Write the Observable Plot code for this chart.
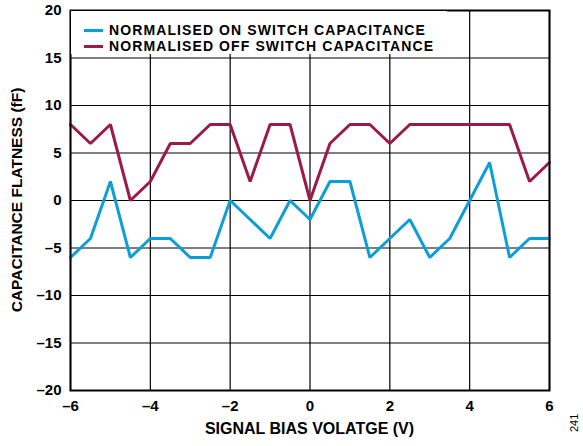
<!DOCTYPE html>
<html>
<head>
<meta charset="utf-8">
<script src="https://cdn.jsdelivr.net/npm/d3@7"></script>
<script src="https://cdn.jsdelivr.net/npm/@observablehq/plot@0.6"></script>
<style>
  html, body { margin: 0; padding: 0; background: #fff; }
  #wrap { position: relative; width: 583px; height: 446px; font-family: "Liberation Sans", Arial, sans-serif; }
  #legend { position: absolute; left: 71px; top: 11px; width: 376px; height: 43px; background: #fff; font-weight: bold; font-size: 14px; letter-spacing: 1.1px; color: #000; }
  .row { position: absolute; left: 13px; height: 16px; line-height: 16px; white-space: nowrap; }
  .sw { display: inline-block; width: 19px; height: 3px; vertical-align: middle; margin-right: 6px; position: relative; top: -1px; }
  #fig { position: absolute; left: 568px; top: 432px; transform: rotate(-90deg); transform-origin: left top; font-size: 11px; color: #000; }
</style>
</head>
<body>
<div id="wrap">
  <div id="chart"></div>
  <div id="legend"></div>
  <div id="fig">241</div>
</div>
<script>
const voltage = [-6,-5.5,-5,-4.5,-4,-3.5,-3,-2.5,-2,-1.5,-1,-0.5,0,0.5,1,1.5,2,2.5,3,3.5,4,4.5,5,5.5,6];
const onCap  = [-6,-4,2,-6,-4,-4,-6,-6,0,-2,-4,0,-2,2,2,-6,-4,-2,-6,-4,0,4,-6,-4,-4];
const offCap = [8,6,8,0,2,6,6,8,8,2,8,8,0,6,8,8,6,8,8,8,8,8,8,2,4];
const seriesNames = ["NORMALISED ON SWITCH CAPACITANCE", "NORMALISED OFF SWITCH CAPACITANCE"];
const seriesColors = ["#0c9fd7", "#9b1b45"];
const xTicks = [-6,-4,-2,0,2,4,6];
const yTicks = [-20,-15,-10,-5,0,5,10,15,20];
const xLabel = "SIGNAL BIAS VOLATGE (V)";
const yLabel = "CAPACITANCE FLATNESS (fF)";

const rows = [];
voltage.forEach((v, i) => {
  rows.push({v, c: onCap[i], s: seriesNames[0]});
  rows.push({v, c: offCap[i], s: seriesNames[1]});
});

const fmt = d => d < 0 ? "\u2013" + (-d) : String(d);

const chart = Plot.plot({
  width: 583,
  height: 446,
  marginLeft: 70,
  marginRight: 34,
  marginTop: 10,
  marginBottom: 56,
  style: { fontFamily: "Liberation Sans, Arial, sans-serif", fontWeight: "bold", fontSize: "15px", color: "#000", background: "#fff" },
  x: { domain: [-6, 6], ticks: xTicks },
  y: { domain: [-20, 20], ticks: yTicks },
  color: { domain: seriesNames, range: seriesColors },
  marks: [
    Plot.gridX(xTicks, { stroke: "#000", strokeOpacity: 1, strokeWidth: 1.2 }),
    Plot.gridY(yTicks, { stroke: "#000", strokeOpacity: 1, strokeWidth: 1.2 }),
    Plot.line(rows, { x: "v", y: "c", stroke: "s", z: "s", strokeWidth: 3, strokeLinejoin: "miter" }),
    Plot.frame({ stroke: "#000", strokeWidth: 2 }),
    Plot.axisX(xTicks, { tickSize: 0, tickPadding: 10, tickFormat: fmt, label: null, fontWeight: "bold", fontSize: 15 }),
    Plot.axisY(yTicks, { tickSize: 0, tickPadding: 9, tickFormat: fmt, label: null, fontWeight: "bold", fontSize: 15 })
  ]
});
document.getElementById("chart").appendChild(chart);

// axis titles placed relative to the plot frame
const svg = d3.select(chart);
const xs = chart.scale("x"), ys = chart.scale("y");
const midX = (xs.range[0] + xs.range[1]) / 2;
const midY = (ys.range[0] + ys.range[1]) / 2;
svg.append("text")
  .attr("x", midX).attr("y", ys.range[0] + 40)
  .attr("text-anchor", "middle").attr("dominant-baseline", "middle")
  .attr("font-size", 16).attr("font-weight", "bold").attr("fill", "#000")
  .text(xLabel);
svg.append("text")
  .attr("transform", `translate(${xs.range[0] - 52},${midY}) rotate(-90)`)
  .attr("text-anchor", "middle").attr("dominant-baseline", "middle")
  .attr("font-size", 15.5).attr("font-weight", "bold").attr("fill", "#000")
  .text(yLabel);

const legend = document.getElementById("legend");
seriesNames.forEach((name, i) => {
  const r = document.createElement("div");
  r.className = "row";
  r.style.top = (11 + i * 16) + "px";
  const sw = document.createElement("span");
  sw.className = "sw";
  sw.style.background = seriesColors[i];
  r.appendChild(sw);
  r.appendChild(document.createTextNode(name));
  legend.appendChild(r);
});
</script>
</body>
</html>
